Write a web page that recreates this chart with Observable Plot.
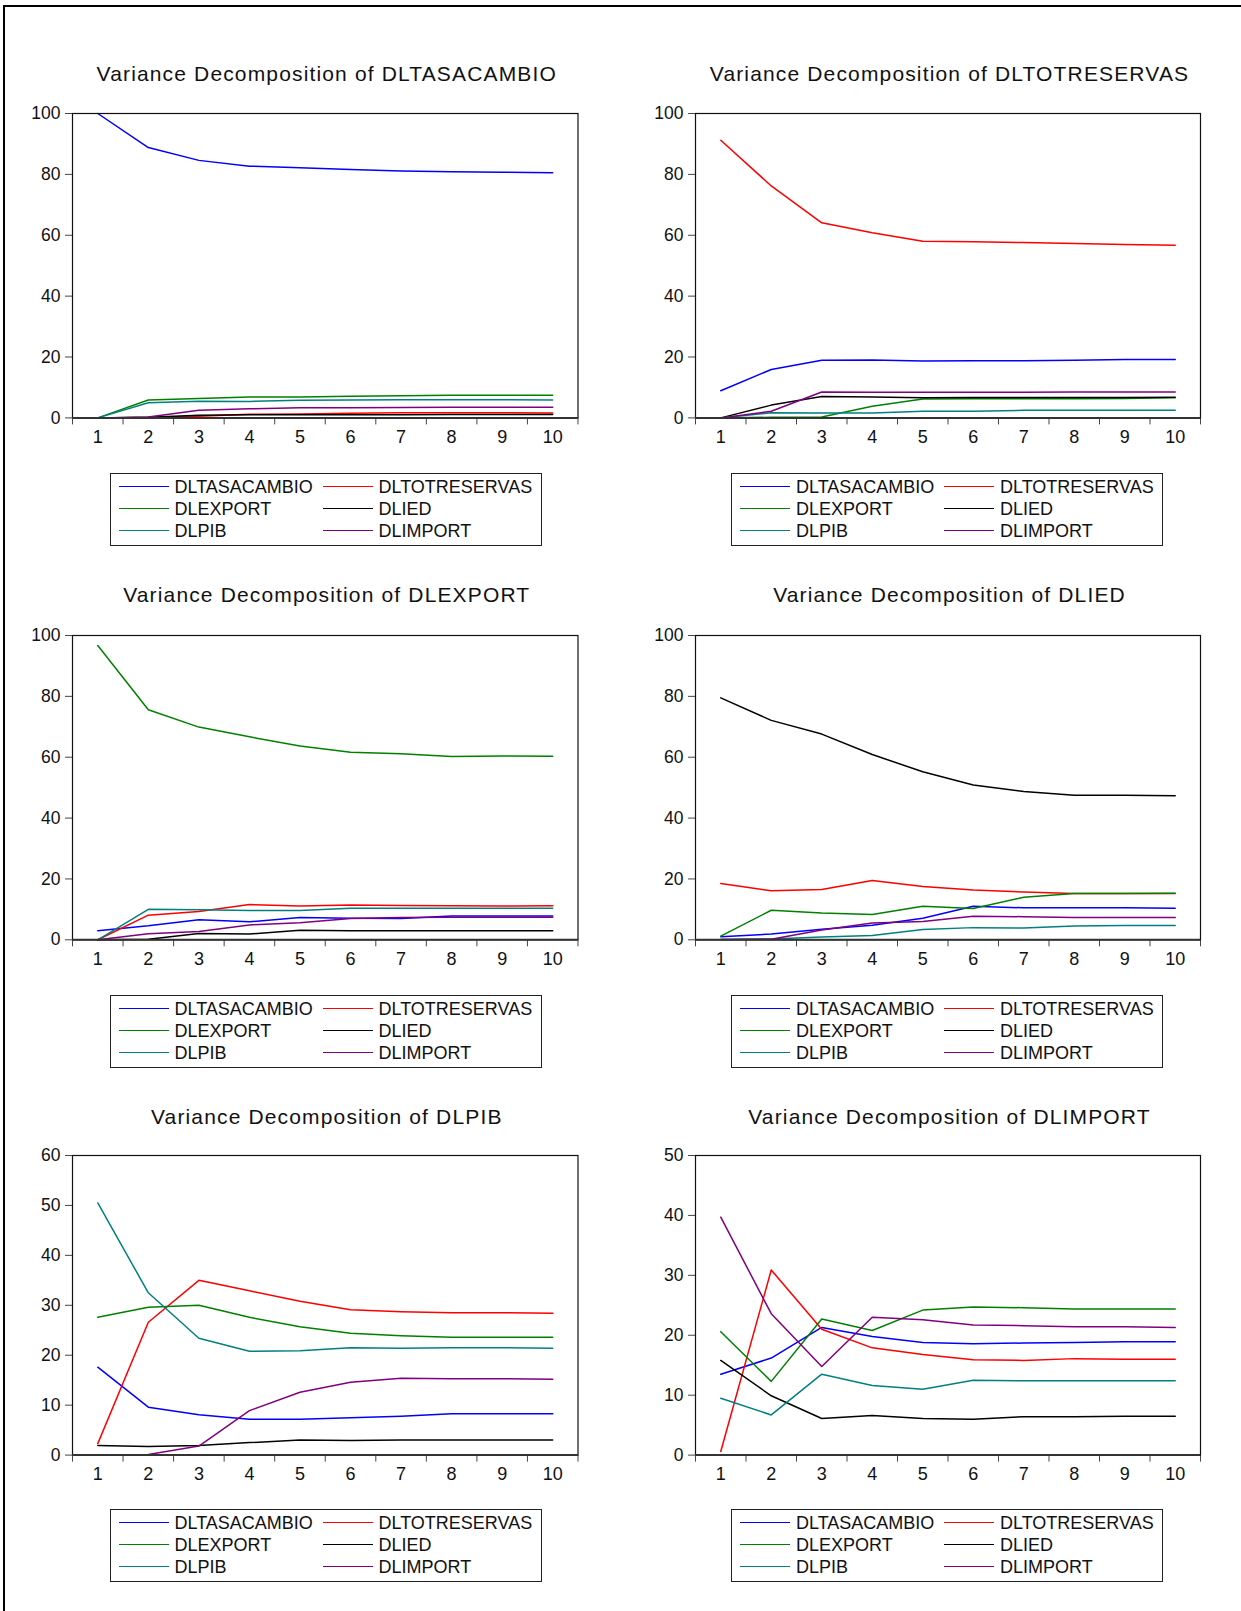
<!DOCTYPE html>
<html><head><meta charset="utf-8">
<script src="https://cdn.jsdelivr.net/npm/d3@7"></script>
<script src="https://cdn.jsdelivr.net/npm/@observablehq/plot@0.6"></script>
<style>
body{margin:0;background:#fff;}
#root{position:relative;width:1241px;height:1611px;overflow:hidden;font-family:"Liberation Sans",Arial,sans-serif;background:#fff;}
.border{position:absolute;left:3px;top:5px;width:1400px;height:1800px;border-left:2px solid #000;border-top:2px solid #000;}
.title{position:absolute;transform:translate(-50%,-50%);font-size:21px;letter-spacing:1.15px;white-space:nowrap;color:#111;}
.legend{position:absolute;border:1px solid #222;box-sizing:border-box;width:432px;height:73px;background:#fff;}
.li{position:absolute;font-size:18px;line-height:18px;white-space:nowrap;transform:translateY(-50%);color:#111;}
.ls{position:absolute;height:0;width:50px;border-top:1.5px solid;}
.svgwrap{position:absolute;}
</style></head><body><div id="root"><div class="border"></div></div>
<script>
// ---- data ----
const horizons = [1, 2, 3, 4, 5, 6, 7, 8, 9, 10];
const seriesNames = ["DLTASACAMBIO", "DLTOTRESERVAS", "DLEXPORT", "DLIED", "DLPIB", "DLIMPORT"];
const seriesColors = ["#0000ff", "#ff0000", "#008000", "#000000", "#008080", "#800080"];
const panelTitles = [
  "Variance Decomposition of DLTASACAMBIO",
  "Variance Decomposition of DLTOTRESERVAS",
  "Variance Decomposition of DLEXPORT",
  "Variance Decomposition of DLIED",
  "Variance Decomposition of DLPIB",
  "Variance Decomposition of DLIMPORT"
];
const yTicks100 = [0, 20, 40, 60, 80, 100];
const yTicks60 = [0, 10, 20, 30, 40, 50, 60];
const yTicks50 = [0, 10, 20, 30, 40, 50];

// rows: DLTASACAMBIO, DLTOTRESERVAS, DLEXPORT, DLIED, DLPIB, DLIMPORT
const vdDLTASACAMBIO = [
  [100, 88.8, 84.6, 82.7, 82.2, 81.6, 81.1, 80.9, 80.7, 80.5],
  [0, 0.1, 0.5, 1.2, 1.3, 1.5, 1.7, 1.7, 1.7, 1.6],
  [0, 5.9, 6.4, 6.9, 6.9, 7.1, 7.3, 7.4, 7.4, 7.4],
  [0, 0.2, 0.9, 1.0, 1.0, 1.0, 1.0, 1.1, 1.1, 1.1],
  [0, 5.0, 5.5, 5.4, 5.8, 5.9, 6.0, 6.0, 6.0, 5.9],
  [0, 0.3, 2.5, 3.0, 3.3, 3.3, 3.4, 3.5, 3.5, 3.5]
];
const vdDLTOTRESERVAS = [
  [8.9, 15.9, 18.9, 19.0, 18.7, 18.8, 18.8, 18.9, 19.2, 19.2],
  [91.2, 76.2, 64.1, 60.8, 58.0, 57.9, 57.6, 57.3, 57.0, 56.7],
  [0, 0.2, 0.3, 3.8, 6.2, 6.3, 6.3, 6.3, 6.4, 6.6],
  [0, 4.2, 7.0, 6.9, 6.6, 6.7, 6.7, 6.7, 6.7, 6.8],
  [0, 1.7, 1.6, 1.6, 2.2, 2.2, 2.5, 2.5, 2.5, 2.5],
  [0, 2.2, 8.5, 8.4, 8.4, 8.4, 8.4, 8.5, 8.5, 8.5]
];
const vdDLEXPORT = [
  [3.0, 4.6, 6.6, 5.9, 7.3, 7.1, 7.0, 7.8, 7.8, 7.8],
  [0, 8.1, 9.3, 11.6, 11.1, 11.4, 11.3, 11.2, 11.1, 11.2],
  [96.7, 75.6, 69.9, 66.7, 63.7, 61.6, 61.1, 60.2, 60.4, 60.3],
  [0, 0.2, 2.1, 1.9, 3.1, 3.0, 3.0, 3.0, 3.0, 3.0],
  [0, 10.0, 9.9, 9.6, 9.6, 10.4, 10.4, 10.4, 10.4, 10.4],
  [0, 2.0, 2.7, 4.9, 5.6, 7.0, 7.3, 7.4, 7.4, 7.4]
];
const vdDLIED = [
  [1.0, 1.9, 3.5, 4.8, 7.1, 11.0, 10.5, 10.5, 10.5, 10.4],
  [18.5, 16.1, 16.5, 19.5, 17.5, 16.4, 15.7, 15.2, 15.2, 15.2],
  [1.2, 9.7, 8.8, 8.3, 11.0, 10.3, 14.0, 15.2, 15.2, 15.3],
  [79.5, 72.1, 67.6, 60.9, 55.2, 50.9, 48.7, 47.5, 47.5, 47.3],
  [0.1, 0.3, 0.9, 1.4, 3.4, 4.0, 3.9, 4.5, 4.7, 4.7],
  [0.1, 0.2, 3.2, 5.5, 6.0, 7.7, 7.6, 7.3, 7.3, 7.3]
];
const vdDLPIB = [
  [17.6, 9.6, 8.1, 7.2, 7.2, 7.5, 7.8, 8.3, 8.3, 8.3],
  [2.3, 26.6, 35.0, 32.9, 30.8, 29.1, 28.7, 28.5, 28.5, 28.4],
  [27.6, 29.6, 30.0, 27.6, 25.7, 24.4, 23.9, 23.6, 23.6, 23.6],
  [1.9, 1.7, 1.9, 2.5, 3.0, 2.9, 3.0, 3.0, 3.0, 3.0],
  [50.5, 32.5, 23.4, 20.8, 20.9, 21.5, 21.4, 21.5, 21.5, 21.4],
  [0, 0.1, 1.8, 8.9, 12.6, 14.6, 15.4, 15.3, 15.3, 15.2]
];
const vdDLIMPORT = [
  [13.5, 16.2, 21.3, 19.8, 18.8, 18.6, 18.7, 18.8, 18.9, 18.9],
  [0.6, 30.9, 21.0, 17.9, 16.8, 15.9, 15.8, 16.1, 16.0, 16.0],
  [20.6, 12.3, 22.7, 20.8, 24.2, 24.7, 24.6, 24.4, 24.4, 24.4],
  [15.8, 9.9, 6.1, 6.6, 6.1, 6.0, 6.4, 6.4, 6.5, 6.5],
  [9.5, 6.7, 13.5, 11.6, 11.0, 12.5, 12.4, 12.4, 12.4, 12.4],
  [39.7, 23.6, 14.8, 23.0, 22.6, 21.7, 21.6, 21.4, 21.4, 21.3]
];

// ---- layout ----
const panelData = [vdDLTASACAMBIO, vdDLTOTRESERVAS, vdDLEXPORT, vdDLIED, vdDLPIB, vdDLIMPORT];
const panelYTicks = [yTicks100, yTicks100, yTicks100, yTicks100, yTicks60, yTicks50];
const cols = [
  {svgLeft: 0, frameL: 72, frameR: 577.5, legL: 109.5},
  {svgLeft: 620, frameL: 695, frameR: 1200, legL: 731}
];
const rows = [
  {frameT: 113.3, frameB: 417.7, titleY: 73.5, legT: 473},
  {frameT: 634.7, frameB: 939, titleY: 595, legT: 995},
  {frameT: 1154.7, frameB: 1454.3, titleY: 1117, legT: 1509}
];

const root = document.getElementById("root");
const svgW = 621;
const padTop = 20, padBottom = 45;

panelData.forEach((mat, i) => {
  const col = cols[i % 2], row = rows[Math.floor(i / 2)];
  const ticks = panelYTicks[i];
  const data = [];
  mat.forEach((vals, s) => vals.forEach((v, k) => data.push({h: horizons[k], v, s: seriesNames[s]})));
  const H = row.frameB - row.frameT + padTop + padBottom;
  const chart = Plot.plot({
    width: svgW,
    height: H,
    marginLeft: col.frameL - col.svgLeft,
    marginRight: col.svgLeft + svgW - col.frameR,
    marginTop: padTop,
    marginBottom: padBottom,
    style: {fontFamily: '"Liberation Sans", Arial, sans-serif', fontSize: "17.5px", color: "#111", background: "transparent", overflow: "visible"},
    x: {domain: [0.5, 10.5]},
    y: {domain: [0, d3.max(ticks)]},
    color: {domain: seriesNames, range: seriesColors},
    marks: [
      Plot.axisY({ticks: ticks, tickSize: 7, tickPadding: 5, label: null, stroke: "#444"}),
      Plot.axisX({ticks: d3.range(0.5, 11, 1), tickSize: 7, tickFormat: () => "", label: null, stroke: "#444"}),
      Plot.axisX({ticks: horizons, tickSize: 0, tickPadding: 12, label: null, tickFormat: d3.format("d"), fontSize: "18px"}),
      Plot.line(data, {x: "h", y: "v", stroke: "s", z: "s", strokeWidth: 1.5}),
      Plot.frame({stroke: "#111", strokeWidth: 1.2}),
      Plot.ruleY([0], {stroke: "#333", strokeWidth: 2})
    ]
  });
  const wrap = document.createElement("div");
  wrap.className = "svgwrap";
  wrap.style.left = col.svgLeft + "px";
  wrap.style.top = (row.frameT - padTop) + "px";
  wrap.appendChild(chart);
  root.appendChild(wrap);

  const t = document.createElement("div");
  t.className = "title";
  t.style.left = ((col.frameL + col.frameR) / 2 + 2) + "px";
  t.style.top = row.titleY + "px";
  t.textContent = panelTitles[i];
  root.appendChild(t);

  const leg = document.createElement("div");
  leg.className = "legend";
  leg.style.left = col.legL + "px";
  leg.style.top = row.legT + "px";
  const rowY = [13, 35, 57];
  seriesNames.forEach((name, s) => {
    const c = s % 2, r = Math.floor(s / 2);
    const ln = document.createElement("div");
    ln.className = "ls";
    ln.style.left = (c === 0 ? 8 : 212) + "px";
    ln.style.top = (rowY[r] - 1) + "px";
    ln.style.borderTopColor = seriesColors[s];
    leg.appendChild(ln);
    const tx = document.createElement("div");
    tx.className = "li";
    tx.style.left = (c === 0 ? 64 : 268) + "px";
    tx.style.top = rowY[r] + "px";
    tx.textContent = name;
    leg.appendChild(tx);
  });
  root.appendChild(leg);
});
</script>
</body></html>
